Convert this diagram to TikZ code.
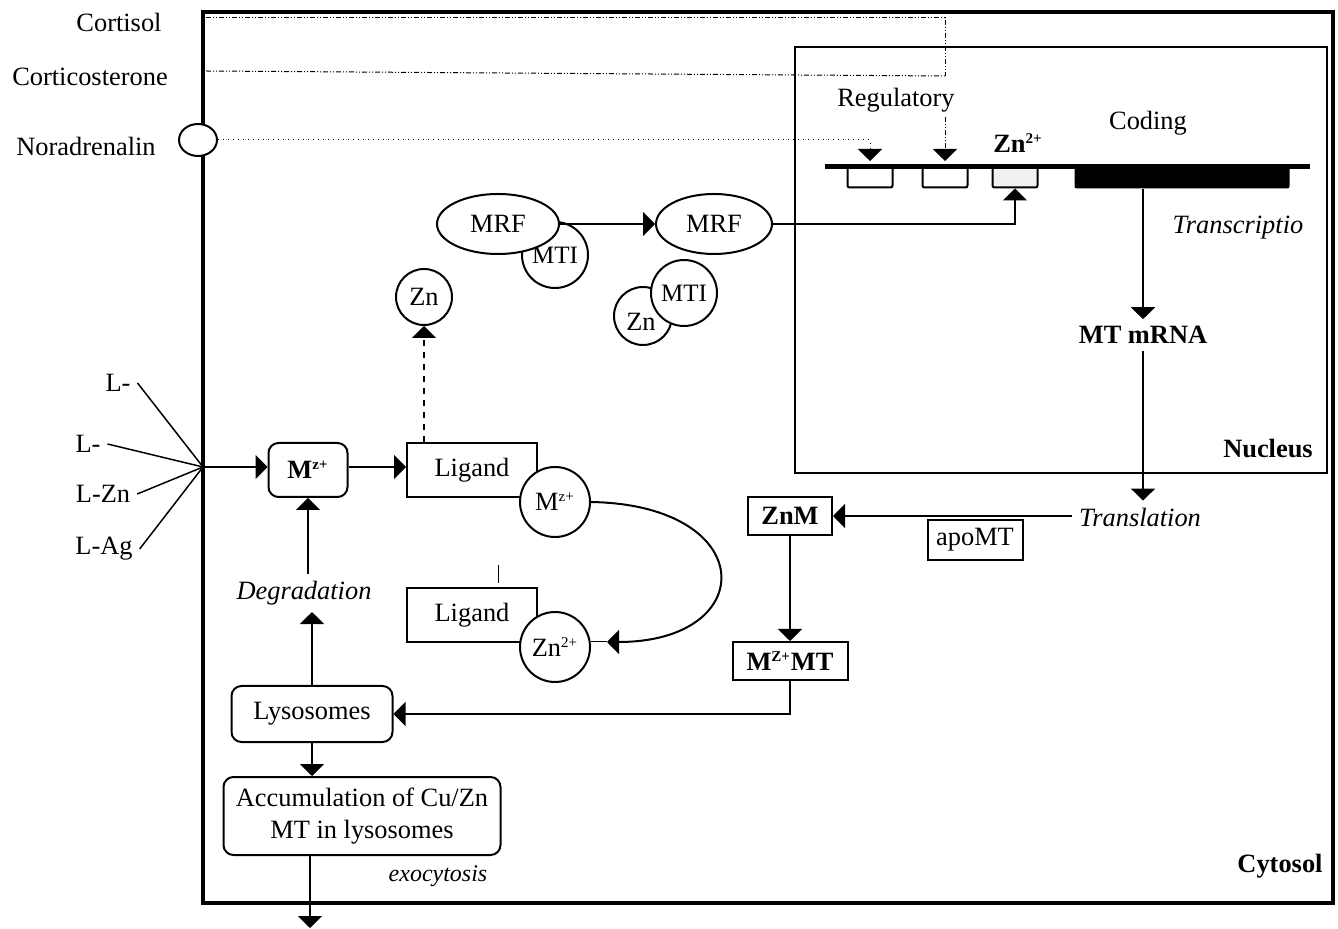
\documentclass[tikz,border=0pt]{standalone}
\usepackage{fontspec}
\setmainfont{Liberation Serif}
\usepackage{tikz}
\usetikzlibrary{shapes.geometric,arrows.meta,positioning,calc}

\newcommand{\sups}[1]{\textsuperscript{\fontsize{7.5}{8}\selectfont #1}}

\begin{document}
\begin{tikzpicture}[x=0.5pt, y=-0.5pt,
    font=\fontsize{13.2}{15.8}\selectfont,
    arr/.style={-{Triangle[length=6pt,width=12pt]}, line width=0.75pt},
    box/.style={rectangle, draw, line width=1pt, inner sep=2pt},
    rbox/.style={box, rounded corners=5pt},
    blob/.style={circle, draw, line width=1pt, fill=white, minimum size=35pt, inner sep=0pt},
    oval/.style={ellipse, draw, line width=1pt, fill=white, minimum width=61pt, minimum height=30pt, inner sep=0pt},
    gene/.style={rectangle, draw, line width=1pt, rounded corners=1pt, minimum width=22.5pt, minimum height=10.5pt, inner sep=0pt},
    hormone/.style={line width=0.5pt, dash pattern=on 2.5pt off 1pt on 0.5pt off 1pt on 0.5pt off 1pt},
]
\useasboundingbox (0,0) rectangle (1338,929);

% Cell and nucleus
\draw[line width=2pt] (203,12) rectangle (1333,903);
\draw[line width=1pt] (795,47) rectangle (1327,473);
\node[font=\fontsize{13.2}{15.8}\selectfont\bfseries] (nucleus) at (1268,449) {Nucleus};
\node[font=\fontsize{13.2}{15.8}\selectfont\bfseries] (cytosol) at (1280,866) {Cytosol};

% Hormones
\node (cortisol) at (119,22) {Cortisol};
\node (corticost) at (90,77) {Corticosterone};
\node (noradr) at (86,146) {Noradrenalin};
\node[ellipse, draw, line width=1pt, fill=white, minimum width=19pt, minimum height=16pt] (receptor) at (198,140) {};
\coordinate (cortin) at (206,18);
\coordinate (costin) at (206,71);
\coordinate (hbend) at (945,18);
\coordinate (hjoin) at (945,76);

% Gene
\node[gene] (reg1) at (870,177) {};
\node[gene] (reg2) at (945,177) {};
\node[gene, fill=gray!12] (znre) at (1015,177) {};
\node[rectangle, fill=black, rounded corners=1pt, minimum width=107.5pt, minimum height=11.5pt, inner sep=0pt] (coding) at (1182,177) {};
\draw[line width=2.5pt] (825,167) -- (1310,167);
\node (regulatory) at (896,100) {Regulatory};
\node (codinglbl) at (1148,123) {Coding};
\node[font=\fontsize{13.2}{15.8}\selectfont\bfseries] (znlbl) at (1018,143) {Zn\sups{2+}};
\coordinate (hit1) at (870,161);
\coordinate (hit2) at (945,161);

\draw[hormone] (cortin) -- (hbend) -- (hjoin);
\draw[hormone] (costin) -- (hjoin);
\draw[hormone, arr, line width=0.5pt] (945,117) -- (hit2);
\draw[dotted, arr, line width=0.5pt] (receptor.east) -| (hit1);

% MRF
\node[blob, minimum size=33pt] (mti1) at (555,255) {\fontsize{12.5}{14}\selectfont MTI};
\node[oval] (mrf1) at (498,224) {MRF};
\node[oval, minimum width=58pt] (mrf2) at (714,224) {MRF};
\node[blob, minimum size=29pt] (znfree) at (643,316) {};
\node at (641,322) {Zn};
\node[blob, minimum size=33pt] (mti2) at (684,293) {\fontsize{12.5}{14}\selectfont MTI};
\node[blob, minimum size=28pt] (zn1) at (424,297) {Zn};
\draw[arr] (mrf1.east) -- (mrf2.west);
\draw[arr] (mrf2.east) -| (znre.south);

% Transcription / translation
\node[font=\fontsize{13.2}{15.8}\selectfont\itshape] (transcr) at (1238,228) {Transcriptio};
\node[font=\fontsize{13.2}{15.8}\selectfont\bfseries] (mrna) at (1143,335) {MT mRNA};
\node[font=\fontsize{13.2}{15.8}\selectfont\itshape] (transl) at (1140,517) {Translation};
\draw[arr] (coding.south -| mrna.north) -- (mrna.north);
\draw[arr] (mrna.south) -- (mrna.south |- transl.north);
\node[box, minimum width=42pt, minimum height=19pt, font=\fontsize{13.2}{15.8}\selectfont\bfseries] (znm) at (790,516) {ZnM};
\node[box, minimum width=47.5pt, minimum height=20pt] (apomt) at (975,540) {apoMT};
\node[box, minimum width=57.5pt, minimum height=19pt, inner sep=1pt, font=\fontsize{13.2}{15.8}\selectfont\bfseries] (mzmt) at (790,661) {M\sups{Z+}MT};
\draw[arr] (transl.west |- znm.east) -- (znm.east);
\draw[arr] (znm.south) -- (mzmt.north);

% Uptake
\node (l1) at (118,383) {L-};
\node (l2) at (88,444) {L-};
\node (lzn) at (103,494) {L-Zn};
\node (lag) at (104,549) {L-Ag};
\coordinate (entry) at (203,467);
\foreach \l in {l1,l2,lzn,lag}
  \draw[line width=0.75pt] (\l.east) -- (entry);
\node[rbox, minimum width=39.5pt, minimum height=27pt, font=\fontsize{13.2}{15.8}\selectfont\bfseries] (mz) at (308,470) {M\sups{z+}};
\draw[arr] (entry) -- (entry -| mz.west);

% Ligand exchange
\node[box, minimum width=65pt, minimum height=27pt] (lig1) at (472,470) {Ligand};
\node[blob] (mzc) at (555,502) {M\sups{z+}};
\node[box, minimum width=65pt, minimum height=27pt] (lig2) at (472,615) {Ligand};
\node[blob] (znc) at (555,647) {Zn\sups{2+}};
\draw[arr] (entry -| mz.east) -- (entry -| lig1.west);
\draw[arr, dashed, line width=1pt] (zn1.south |- lig1.north) -- (zn1.south);
\coordinate (tick) at (498,565);
\draw[line width=0.5pt] (tick) -- ++(0,18);
\coordinate (curvend) at (607,642);
\draw[arr, line width=1pt] (mzc.east) .. controls (760,505) and (760,642) .. (curvend);
\draw[line width=0.5pt] (curvend) -- (znc.east |- curvend);

% Degradation and lysosomes
\node[font=\fontsize{13.2}{15.8}\selectfont\itshape] (degr) at (304,593) {Degradation};
\node[rbox, minimum width=80.5pt, minimum height=28pt] (lyso) at (312,714) {Lysosomes};
\node[rbox, minimum width=138.5pt, minimum height=39pt, align=center] (accum) at (362,816) {Accumulation of Cu/Zn\\MT in lysosomes};
\node[font=\fontsize{12}{14}\selectfont\itshape] (exo) at (438,876) {exocytosis};
\coordinate (out) at (310,928);
\draw[arr] (mz.south |- degr.north) -- (mz.south);
\draw[arr] (lyso.north) -- (lyso.north |- degr.south);
\draw[arr] (mzmt.south) |- (lyso.east);
\draw[arr] (lyso.south) -- (lyso.south |- accum.north);
\draw[arr] (out |- accum.south) -- (out);

\end{tikzpicture}
\end{document}
